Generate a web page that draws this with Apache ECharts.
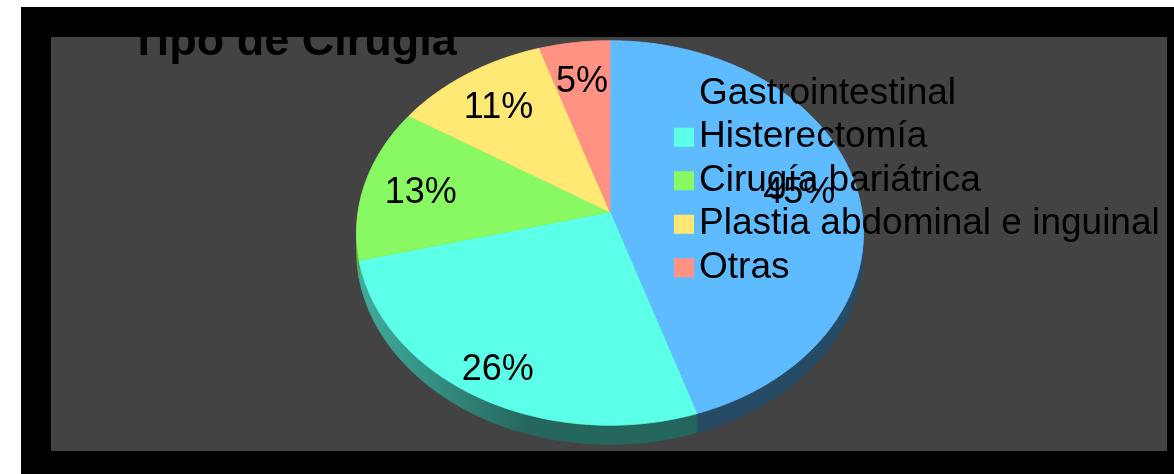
<!DOCTYPE html>
<html>
<head>
<meta charset="utf-8">
<script src="https://cdn.jsdelivr.net/npm/echarts@6/dist/echarts.min.js"></script>
<style>
  html, body { margin: 0; padding: 0; background: #fff; }
  #frame { position: absolute; left: 21px; top: 7px; width: 1153px; height: 467px; background: #000; }
  #chart { position: absolute; left: 30px; top: 30px; width: 1116px; height: 414px; background: #434343; }
</style>
</head>
<body>
<div id="frame"><div id="chart"></div></div>
<script>
const title = 'Tipo de Cirugía'
const categories = ['Gastrointestinal', 'Histerectomía', 'Cirugía bariátrica', 'Plastia abdominal e inguinal', 'Otras']
const values = [45, 26, 13, 11, 5]
const colors = ['#5ebbff', '#5cffe8', '#88f863', '#ffe873', '#ff9282']

const FONT = '"Liberation Sans", Arial, sans-serif'

// 3d pie geometry (tilted disc with a bit of perspective)
const CX = 559, CY = 175, RX = 252, RY = 190, P = 0.109, DEPTH = 17

const total = values.reduce((a, b) => a + b, 0)

const proj = (theta, f) => {
  const X = Math.sin(theta) * f
  const Z = -Math.cos(theta) * f
  const d = 1 - P * Z
  return [CX + RX * X / d, CY + RY * Z / d, d]
}

const arcPoints = (a0, a1, dy) => {
  const n = Math.max(2, Math.ceil((a1 - a0) / 0.015))
  const pts = []
  for (let k = 0; k <= n; k++) {
    const p = proj(a0 + (a1 - a0) * k / n, 1)
    pts.push([p[0], p[1] + (dy ? dy / p[2] : 0)])
  }
  return pts
}

const shade = (hex, k) => {
  const n = parseInt(hex.slice(1), 16)
  const r = Math.round(((n >> 16) & 255) * k)
  const g = Math.round(((n >> 8) & 255) * k)
  const b = Math.round((n & 255) * k)
  return `rgb(${r},${g},${b})`
}

const renderSlice = (i, api) => {
  const before = values.slice(0, i).reduce((a, b) => a + b, 0)
  const a0 = before / total * Math.PI * 2
  const a1 = a0 + api.value(0) / total * Math.PI * 2
  const children = []

  // visible side wall (front half of the rim)
  const s0 = Math.acos(-P), s1 = Math.PI * 2 - Math.acos(-P)
  const lo = Math.max(a0, s0), hi = Math.min(a1, s1)
  if (lo < hi) {
    const top = arcPoints(lo, hi, 0)
    const bottom = arcPoints(lo, hi, DEPTH).reverse()
    const wall = new echarts.graphic.LinearGradient(CX - RX, 0, CX - RX * 0.31, 0, [
      { offset: 0, color: shade(colors[i], 0.68) },
      { offset: 1, color: shade(colors[i], 0.4) }
    ], true)
    children.push({
      type: 'polygon',
      shape: { points: top.concat(bottom) },
      style: { fill: wall, stroke: wall, lineWidth: 0.8 },
      z2: 1
    })
  }

  // top face
  children.push({
    type: 'polygon',
    shape: { points: [[CX, CY]].concat(arcPoints(a0, a1, 0)) },
    style: { fill: colors[i], stroke: colors[i], lineWidth: 0.8 },
    z2: 2
  })

  // percentage label
  const mid = (a0 + a1) / 2
  const f = 0.77 + 0.09 * Math.max(0, -Math.cos(mid))
  const lp = proj(mid, f)
  children.push({
    type: 'text',
    x: lp[0],
    y: lp[1] + 4,
    style: {
      text: Math.round(api.value(0) / total * 100) + '%',
      font: `36px ${FONT}`,
      fill: '#000',
      align: 'center',
      verticalAlign: 'middle'
    },
    z2: 3
  })

  return { type: 'group', children }
}

const chart = echarts.init(document.getElementById('chart'))

chart.setOption({
  animation: false,
  color: colors,
  graphic: [{
    type: 'text',
    x: 79,
    y: 6,
    z: 10,
    style: { text: title, font: `bold 45px ${FONT}`, fill: '#000', verticalAlign: 'middle' }
  }],
  legend: {
    orient: 'vertical',
    left: 618,
    top: 30,
    icon: 'rect',
    itemWidth: 20,
    itemHeight: 19,
    itemGap: 0,
    selectedMode: false,
    textStyle: { fontFamily: FONT, fontSize: 37, lineHeight: 43.5, color: '#000' },
    data: categories
  },
  series: categories.map((name, i) => ({
    type: 'custom',
    name,
    coordinateSystem: 'none',
    silent: true,
    itemStyle: { color: colors[i] },
    data: [[values[i]]],
    renderItem: (params, api) => renderSlice(i, api)
  }))
})

window.addEventListener('resize', () => chart.resize())
</script>
</body>
</html>
